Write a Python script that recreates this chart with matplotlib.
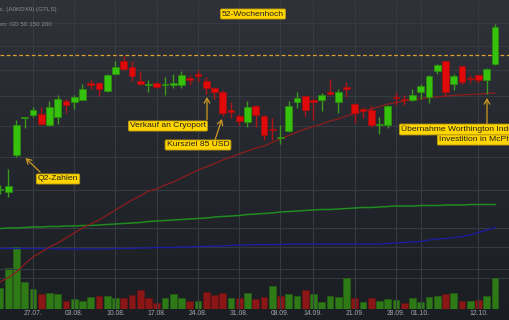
import numpy as np
import pandas as pd
import matplotlib
matplotlib.use('Agg')
import matplotlib.pyplot as plt
from matplotlib.colors import LinearSegmentedColormap

# ---- data ----
days = [d for d in pd.bdate_range('2020-07-21', '2020-10-14') if d != pd.Timestamp('2020-09-07')]

open_ = [52.0, 51.6, 59.0, 66.3, 67.0, 67.2, 65.0, 66.6, 69.8, 69.6, 70.0, 73.2, 73.4, 71.8, 75.2, 77.8,
         76.6, 73.8, 72.9, 73.3, 72.9, 73.0, 73.0, 74.2, 75.0, 73.8, 72.3, 71.6, 67.8, 66.8, 65.5, 68.8,
         66.8, 64.3, 62.3, 63.7, 69.6, 70.8, 70.1, 70.0, 71.5, 69.6, 72.5, 69.2, 68.0, 68.0, 64.9, 65.0,
         70.6, 70.2, 70.0, 71.5, 70.5, 75.7, 77.7, 73.2, 76.8, 74.4, 74.9, 73.9, 77.1]
high = [53.0, 56.2, 66.0, 66.6, 68.6, 68.6, 69.8, 71.0, 70.2, 71.0, 73.2, 74.0, 73.6, 75.2, 77.8, 78.8,
        77.8, 75.8, 74.0, 73.6, 74.6, 75.2, 75.8, 75.0, 76.0, 74.6, 72.6, 72.0, 69.6, 67.2, 69.8, 69.0,
        67.0, 66.4, 65.0, 69.8, 71.6, 70.9, 70.4, 71.4, 74.2, 72.2, 73.6, 69.4, 68.6, 69.0, 66.6, 69.0,
        71.7, 71.0, 72.3, 73.2, 75.0, 77.3, 77.9, 75.3, 76.9, 75.0, 75.0, 76.5, 85.3]
low = [51.2, 50.6, 58.6, 64.4, 66.6, 65.0, 64.8, 65.2, 67.4, 68.2, 70.0, 72.2, 70.8, 71.6, 75.2, 76.0,
       73.8, 73.0, 71.6, 72.4, 71.0, 72.4, 72.4, 73.0, 73.6, 71.2, 70.2, 66.8, 66.4, 65.0, 64.6, 64.6,
       62.0, 62.0, 61.2, 63.6, 68.4, 66.8, 66.0, 67.8, 71.0, 67.4, 70.6, 65.4, 66.4, 64.6, 63.2, 64.5,
       69.0, 69.0, 69.9, 70.3, 69.5, 75.3, 70.8, 72.1, 73.2, 73.5, 73.5, 71.3, 77.1]
close = [52.2, 52.8, 65.1, 66.5, 68.0, 65.2, 68.6, 70.2, 69.0, 70.5, 72.2, 73.0, 72.2, 75.0, 76.6, 76.2,
         74.8, 73.2, 73.1, 72.6, 73.1, 73.4, 75.0, 74.0, 74.8, 72.4, 71.5, 67.4, 67.6, 65.8, 68.5, 67.0,
         63.0, 64.0, 62.5, 68.8, 70.3, 67.9, 69.5, 71.1, 71.2, 71.5, 72.2, 67.4, 67.8, 64.9, 65.1, 68.7,
         70.3, 69.9, 70.9, 72.8, 74.7, 77.0, 71.5, 74.8, 73.5, 74.1, 73.9, 76.3, 84.5]
volume = [518, 1033, 1543, 683, 500, 375, 393, 375, 200, 243, 200, 308, 333, 333, 268, 268,
          350, 475, 268, 158, 268, 375, 268, 200, 200, 418, 350, 408, 268, 268, 393, 243,
          293, 575, 333, 375, 333, 475, 375, 183, 333, 293, 775, 268, 183, 268, 200, 250,
          225, 143, 268, 183, 293, 325, 375, 408, 200, 200, 225, 325, 775]
ma50 = [33.6, 34.5, 35.6, 37.2, 38.6, 39.6, 40.6, 41.4, 42.4, 43.4, 44.4, 45.2, 46.0, 47.0, 48.0, 49.0,
        50.0, 50.8, 51.8, 52.2, 53.0, 53.6, 54.4, 55.2, 56.0, 56.6, 57.3, 58.0, 58.6, 59.2, 59.8, 60.4,
        60.8, 61.5, 62.2, 62.9, 63.6, 64.2, 64.7, 65.2, 65.8, 66.2, 66.8, 67.3, 67.8, 68.2, 68.7, 69.2,
        69.5, 69.8, 70.1, 70.3, 70.5, 70.6, 70.8, 70.9, 71.0, 71.1, 71.2, 71.3, 71.4]
ma150 = [44.3, 44.4, 44.4, 44.5, 44.6, 44.6, 44.7, 44.7, 44.8, 44.8, 44.9, 44.9, 45.0,
         45.1, 45.2, 45.3, 45.4, 45.5, 45.7, 45.8, 45.9, 46.0, 46.1, 46.2, 46.3,
         46.4, 46.6, 46.7, 46.8, 46.9, 47.1, 47.2, 47.3, 47.4, 47.6, 47.7, 47.8,
         47.9, 48.0, 48.1, 48.1, 48.2, 48.3, 48.4, 48.5, 48.5, 48.6, 48.7, 48.8,
         48.8, 48.8, 48.9, 48.9, 48.9, 49.0, 49.0, 49.0, 49.1, 49.1, 49.1, 49.1]
ma200 = [40.3, 40.3, 40.3, 40.3, 40.3, 40.3, 40.3, 40.2, 40.2, 40.2, 40.2, 40.2, 40.2,
         40.2, 40.3, 40.3, 40.3, 40.4, 40.4, 40.5, 40.5, 40.5, 40.6, 40.6, 40.7,
         40.7, 40.8, 40.8, 40.9, 41.0, 41.0, 41.1, 41.1, 41.1, 41.1, 41.2, 41.2,
         41.2, 41.2, 41.2, 41.2, 41.2, 41.2, 41.2, 41.2, 41.2, 41.2, 41.3, 41.4,
         41.5, 41.6, 41.7, 42.0, 42.2, 42.3, 42.5, 42.7, 43.0, 43.5, 44.0, 44.5]
week52_high = 79.0
tick_dates = ['27.07.', '03.08.', '10.08.', '17.08.', '24.08.', '31.08.', '08.09.',
              '14.09.', '21.09.', '28.09.', '01.10.', '12.10.']
price_grid = [36.3, 44.5, 52.0, 58.7, 64.8, 70.8, 76.0, 80.9, 85.5]
volume_grid = [775, 1550]

# ---- figure ----
W, H = 510, 320
fig = plt.figure(figsize=(W / 100, H / 100), dpi=100)
fig.patch.set_facecolor('#1b1e23')

bg = fig.add_axes([0, 0, 1, 1])
bg.axis('off')
grad = np.linspace(0, 1, 256).reshape(-1, 1)
cmap = LinearSegmentedColormap.from_list('bg', ['#2f3339', '#24272d', '#1a1d22'])
bg.imshow(grad, aspect='auto', cmap=cmap, extent=[0, 1, 0, 1], origin='upper')

pos = [0, 11 / H, 1, 309 / H]
axv = fig.add_axes(pos)
ax = fig.add_axes(pos)
for a in (axv, ax):
    a.patch.set_visible(False)
    for s in a.spines.values():
        s.set_visible(False)

x = np.arange(len(days))
xlim = (0, W / 8.25)
o, h, l, c = map(np.array, (open_, high, low, close))

# volume
vol_up = np.r_[True, c[1:] >= c[:-1]]
axv.bar(x, volume, width=0.8, color=np.where(vol_up, '#2e7a17', '#8a1616'),
        edgecolor=np.where(vol_up, '#256612', '#6e1111'), lw=0.4, zorder=2)
axv.set_xlim(*xlim)
axv.set_ylim(0, 309 * 25)
axv.set_yticks(volume_grid)
axv.set_xticks([])
axv.grid(axis='y', color='#33373e', lw=0.8)
axv.tick_params(left=False, labelleft=False)

# price
ax.set_xlim(*xlim)
ax.set_ylim(90 - 0.2 * 309, 90)
ax.set_yticks(price_grid)
ax.tick_params(axis='y', left=False, labelleft=False)
lab_pos = [i for i, d in enumerate(days) if d.strftime('%d.%m.') in tick_dates]
ax.set_xticks(lab_pos)
ax.set_xticklabels([days[i].strftime('%d.%m.') for i in lab_pos])
ax.tick_params(axis='x', length=0, pad=1.0, labelsize=4.9, labelcolor='#a4a8ae')
for t in ax.get_xticklabels():
    t.set_family('Liberation Sans')
ax.grid(True, color='#363a41', lw=0.8, zorder=0)
ax.set_axisbelow(True)

ax.plot(x, ma150, color='#1f8c1f', lw=1.1, zorder=2)
ax.plot(x, ma200, color='#1d1d9e', lw=1.0, zorder=2)
ax.plot(x, ma50, color='#8e1d1d', lw=0.9, zorder=2)
ax.axhline(week52_high, color='#e0a030', lw=0.9, ls=(0, (3, 2)), zorder=2)

up = c >= o
ax.vlines(x, l, h, colors=np.where(up, '#3a9a1c', '#b01515'), lw=1.0, zorder=3)
ax.bar(x, np.maximum(np.abs(c - o), 0.3), bottom=np.minimum(o, c), width=0.82,
       color=np.where(up, '#36c20c', '#e00a0a'), edgecolor=np.where(up, '#2a8f0e', '#a80c0c'),
       lw=0.5, zorder=4)

# annotations
box = dict(boxstyle='round,pad=0.18,rounding_size=0.15', fc='#ffd500', ec='#b89a10', lw=0.6)
tk = dict(fontsize=6.1, color='#202020', family='Liberation Sans', bbox=box, zorder=6)
arr = dict(arrowstyle='->,head_length=0.35,head_width=0.2', color='#d09a20', lw=0.9,
           shrinkA=0, shrinkB=0)

ax.text(30.67, 87.2, '52-Wochenhoch', ha='center', va='center', **tk)
ax.text(7.03, 54.2, 'Q2-Zahlen', ha='center', va='center', **tk)
ax.annotate('', xy=(3.09, 58.4), xytext=(4.85, 55.6), arrowprops=arr, zorder=5)
ax.text(20.36, 64.8, 'Verkauf an Cryoport', ha='center', va='center', **tk)
ax.annotate('', xy=(25.09, 70.6), xytext=(25.09, 66.0), arrowprops=arr, zorder=5)
ax.text(24.0, 61.0, 'Kursziel 85 USD', ha='center', va='center', **tk)
ax.annotate('', xy=(26.9, 66.2), xytext=(26.06, 62.0), arrowprops=arr, zorder=5)
ax.text(48.6, 64.1, 'Übernahme Worthington Industries Cryo-Sparte', ha='left', va='center', **tk)
ax.text(53.2, 62.0, 'Investition in McPhy Energy', ha='left', va='center', **tk)
ax.annotate('', xy=(59.03, 70.4), xytext=(59.03, 65.2), arrowprops=arr, zorder=5)

fig.text(57 / W, 1 - 9 / H, 'Chart Industries Inc. (A0KDX9) (GTLS)', ha='right', va='center',
         fontsize=4.5, color='#8c9096', family='Liberation Sans')
fig.text(52 / W, 1 - 25 / H, 'Indikatoren: GD 50 150 200', ha='right', va='center',
         fontsize=4.5, color='#8c9096', family='Liberation Sans')

fig.savefig('out.png', dpi=100, facecolor=fig.get_facecolor())
